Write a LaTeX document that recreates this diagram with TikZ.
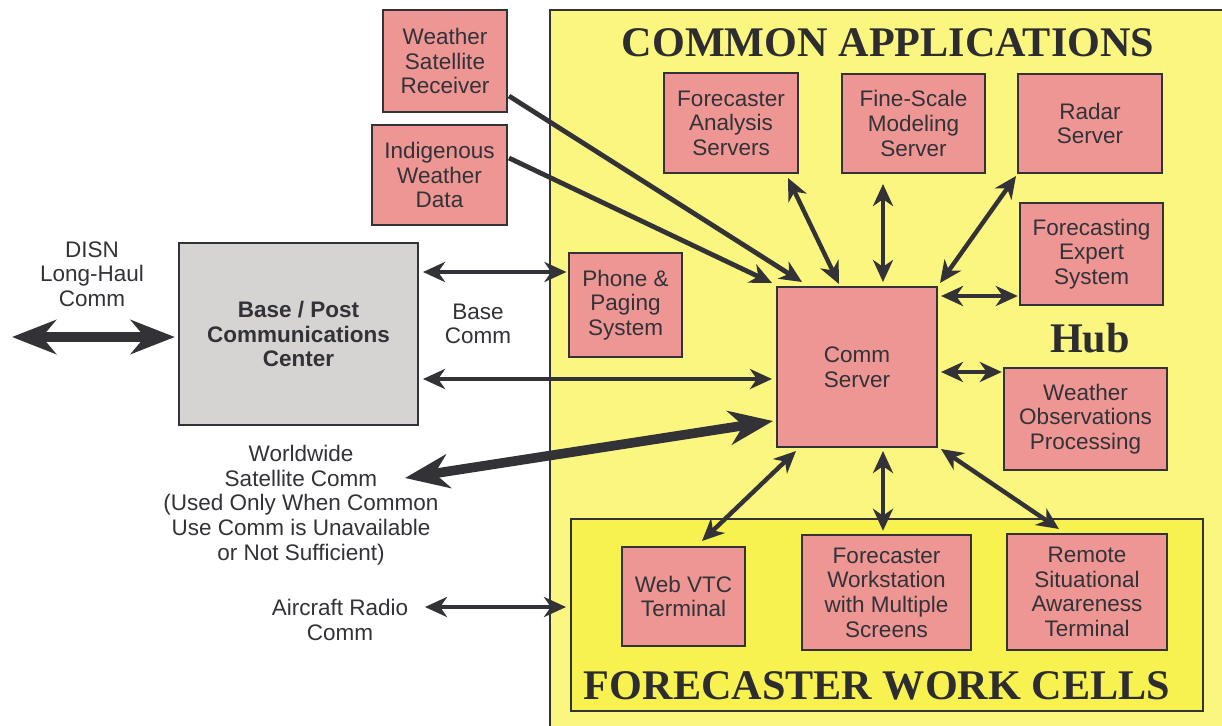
\documentclass[tikz,border=0pt]{standalone}
\usepackage{fontspec}
\setmainfont{Liberation Sans}
\newfontfamily\titlefont{Liberation Serif}
\usetikzlibrary{arrows.meta,calc}

\definecolor{hubyellow}{RGB}{250,246,128}
\definecolor{cellyellow}{RGB}{248,242,80}
\definecolor{boxpink}{RGB}{237,150,148}
\definecolor{boxgrey}{RGB}{214,211,211}
\definecolor{ink}{RGB}{50,50,55}

\tikzset{
  % box given by its corners x1,y1,x2,y2 (picture units)
  span/.style n args={4}{at={({(#1+#3)/2},{(#2+#4)/2})},
    minimum width={(#3-#1)*0.025cm}, minimum height={(#4-#2)*0.025cm}},
  labeltext/.style={text=ink, align=center, font=\fontsize{16}{17.5}\selectfont},
  pinkbox/.style={labeltext, draw=ink, line width=0.05cm, fill=boxpink, inner sep=0pt},
  greybox/.style={pinkbox, fill=boxgrey, font=\bfseries\fontsize{16}{17.5}\selectfont},
  areabox/.style={draw=ink, line width=0.05cm, inner sep=0pt},
  heading/.style={text=ink!90!black, font=\titlefont\bfseries\fontsize{30}{34}\selectfont},
  link/.style={draw=ink, line width=0.11cm,
    {Stealth[length=0.55cm,width=0.5cm,inset=0.17cm]}-{Stealth[length=0.55cm,width=0.5cm,inset=0.17cm]}},
  feed/.style={draw=ink, line width=0.12cm, -{Stealth[length=0.55cm,width=0.5cm,inset=0.17cm]}},
  trunk/.style={draw=ink, line width=0.24cm,
    {Stealth[length=1.1cm,width=0.85cm,inset=0.35cm]}-{Stealth[length=1.1cm,width=0.85cm,inset=0.35cm]}},
}

\begin{document}
\begin{tikzpicture}[x=0.025cm,y=-0.025cm]
\useasboundingbox (0,0) rectangle (1222,725);
\fill[white] (0,0) rectangle (1222,725);
\clip (0,0) rectangle (1222,725);

% hub area and work cell area
\node[areabox, fill=hubyellow, span={550}{10}{1240}{745}] (hubarea) {};
\node[areabox, fill=cellyellow, span={571}{519}{1203}{711}] (cells) {};

% headings
\node[heading] (capp) at (888,43) {COMMON APPLICATIONS};
\node[heading] (hub) at (1090,338) {Hub};
\node[heading] (fwc) at (877,686) {FORECASTER WORK CELLS};

% outside feeds
\node[pinkbox, span={383}{10}{507}{112}] (wsr) {Weather\\Satellite\\Receiver};
\node[pinkbox, span={372}{125}{507}{225}] (iwd) {Indigenous\\Weather\\Data};
\node[greybox, span={179}{243}{418}{425}] (bp) {Base / Post\\Communications\\Center};

% hub boxes
\node[pinkbox, span={569}{253}{682}{357}] (phone) {Phone \&\\Paging\\System};
\node[pinkbox, span={664}{73}{798}{173}] (fas) {Forecaster\\Analysis\\Servers};
\node[pinkbox, span={842}{74}{985}{173}] (fsm) {Fine-Scale\\Modeling\\Server};
\node[pinkbox, span={1018}{74}{1162}{173}] (radar) {Radar\\Server};
\node[pinkbox, span={1020}{203}{1163}{305}] (fes) {Forecasting\\Expert\\System};
\node[pinkbox, span={777}{287}{937}{447}] (comm) {Comm\\Server};
\node[pinkbox, span={1004}{368}{1167}{470}] (wop) {Weather\\Observations\\Processing};

% work cells
\node[pinkbox, span={622}{547}{745}{646}] (web) {Web VTC\\Terminal};
\node[pinkbox, span={802}{535}{971}{650}] (fws) {Forecaster\\Workstation\\with Multiple\\Screens};
\node[pinkbox, span={1007}{534}{1167}{650}] (rsa) {Remote\\Situational\\Awareness\\Terminal};

% free labels
\node[labeltext] (disn) at (92,274) {DISN\\Long-Haul\\Comm};
\node[labeltext] (basecomm) at (478,324) {Base\\Comm};
\node[labeltext] (wwsat) at (301,505) {Worldwide\\Satellite Comm\\(Used Only When Common\\Use Comm is Unavailable\\or Not Sufficient)};
\node[labeltext] (aircraft) at (340,620) {Aircraft Radio\\Comm};

% anchor points for the straight runs
\coordinate (disnL) at (12,337);
\coordinate (wwL) at (405,478);
\coordinate (acL) at (425,607);
\path ([shift={(4,30)}]bp.north east) coordinate (bpA);
\path ([shift={(4,137)}]bp.north east) coordinate (bpB);
\path ([shift={(42,10)}]fsm.south west) coordinate (fsmA);
\path ([shift={(3,10)}]comm.north east) coordinate (commE1);
\path ([shift={(3,86)}]comm.north east) coordinate (commE2);
\path ([shift={(107,3)}]comm.south west) coordinate (commS);

% external links
\draw[trunk, shorten >=0.08cm] (disnL) -- (disnL -| bp.west);
\draw[link, shorten >=0.04cm] (bpA) -- (bpA -| phone.west);
\draw[link, shorten >=0.1cm] (bpB) -- (bpB -| comm.west);
\draw[trunk] (wwL) -- ([shift={(-3,-27)}]comm.south west);
\draw[link, shorten >=0.1cm] (acL) -- (acL -| cells.west);
\draw[feed] ([shift={(1,-17)}]wsr.south east) -- ([shift={(26,-4)}]comm.north west);
\draw[feed] ([shift={(1,-17)}]iwd.east) -- ([shift={(-4,-3)}]comm.north west);

% hub links
\draw[link] ([shift={(-11,4)}]fas.south east) -- ([shift={(63,-2)}]comm.north west);
\draw[link, shorten >=0.1cm] (fsmA) -- (fsmA |- comm.north);
\draw[link] ([shift={(-1,2)}]radar.south west) -- ([shift={(2,-3)}]comm.north east);
\draw[link, shorten >=0.03cm] (commE1) -- (commE1 -| fes.west);
\draw[link, shorten >=0.03cm] (commE2) -- (commE2 -| wop.west);

% work cell links
\draw[link] ([shift={(20,3)}]comm.south west) -- ([shift={(81,-5)}]web.north west);
\draw[link, shorten >=0.08cm] (commS) -- (commS |- fws.north);
\draw[link] ([shift={(3,1)}]comm.south east) -- ([shift={(53,-4)}]rsa.north west);
\end{tikzpicture}
\end{document}
